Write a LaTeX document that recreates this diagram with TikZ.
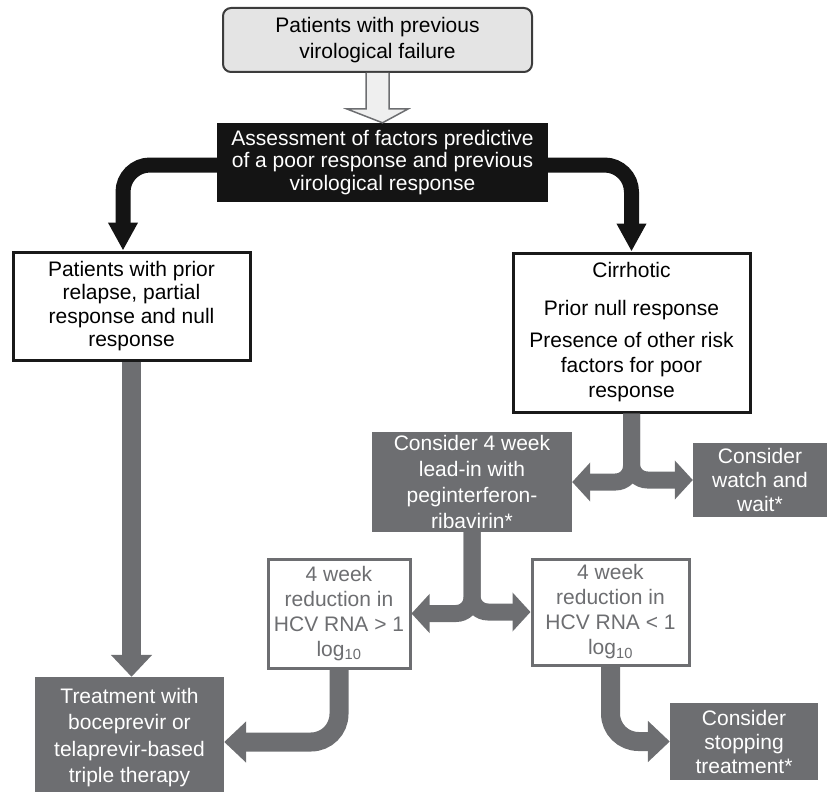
\documentclass[tikz,border=0pt]{standalone}
\usepackage{fontspec}
\setmainfont{Liberation Sans}
\usetikzlibrary{arrows.meta,calc}
\definecolor{dg}{RGB}{109,110,113}
\definecolor{lg}{RGB}{228,228,228}
\definecolor{bd}{RGB}{60,60,60}
\begin{document}
\begin{tikzpicture}[x=1pt,y=-1pt,
  base/.style={inner sep=0pt, align=center, font=\fontsize{21}{25}\selectfont},
  topbox/.style={base, draw=bd, fill=lg, line width=2pt, rounded corners=8pt},
  blackbox/.style={base, fill=black!92, text=white},
  wbox/.style={base, draw=black!90, fill=white, line width=3pt},
  gbox/.style={base, fill=dg, text=white},
  gwbox/.style={base, draw=dg, fill=white, text=dg, line width=3pt},
  barrow/.style={line width=15pt, draw=black!92, rounded corners=27pt, -{Triangle[width=28pt,length=28pt]}},
  garrow/.style={line width=17pt, draw=dg, rounded corners=16pt, -{Triangle[width=38pt,length=18pt]}},
  garrowb/.style={line width=19pt, draw=dg, rounded corners=28pt, -{Triangle[width=40pt,length=22pt]}},
  hollow/.style={draw=dg, fill=lg!60!white, line width=1.5pt, line join=miter}
]
\clip (0,0) rectangle (828,792);

\node[topbox, minimum width=309pt, minimum height=64pt, font=\fontsize{21}{26}\selectfont] (tb) at (377.5,40)
  {Patients with previous\\virological failure};
\node[blackbox, minimum width=331pt, minimum height=79pt, font=\fontsize{21}{22.5}\selectfont] (bb) at (382.5,162.5)
  {Assessment of factors predictive\\of a poor response and previous\\virological response};
\node[wbox, minimum width=237pt, minimum height=108pt, font=\fontsize{21}{23.5}\selectfont] (lb) at (131.5,306)
  {Patients with prior\\relapse, partial\\response and null\\response};
\node[wbox, minimum width=237pt, minimum height=159pt] (rb) at (631.5,332.5)
  {Cirrhotic\\[13pt]Prior null response\\[7pt]Presence of other risk\\factors for poor\\response};
\node[gbox, minimum width=200pt, minimum height=100pt, font=\fontsize{21}{25.7}\selectfont] (c4) at (472,482)
  {Consider 4 week\\lead-in with\\peginterferon-\\ribavirin*};
\node[gbox, minimum width=134pt, minimum height=74pt, font=\fontsize{21}{24}\selectfont] (ww) at (760,480)
  {Consider\\watch and\\wait*};
\node[gwbox, minimum width=142pt, minimum height=109pt] (gt) at (339,613.5)
  {4 week\\reduction in\\HCV RNA > 1\\log\textsubscript{10}};
\node[gwbox, minimum width=157pt, minimum height=106pt] (lt) at (610.5,612)
  {4 week\\reduction in\\HCV RNA < 1\\log\textsubscript{10}};
\node[gbox, minimum width=189pt, minimum height=121pt, font=\fontsize{21}{26.3}\selectfont] (tr) at (129.5,737.5)
  {Treatment with\\boceprevir or\\telaprevir-based\\triple therapy};
\node[gbox, minimum width=148pt, minimum height=77pt, font=\fontsize{21}{24}\selectfont] (st) at (744,741.5)
  {Consider\\stopping\\treatment*};

% hollow arrow
\draw[hollow] ($(tb.south)+(-11.5,0)$) -- ($(tb.south)+(-11.5,36)$) -- ($(tb.south)+(-30.5,36)$)
  -- (bb.north) -- ($(tb.south)+(30.5,36)$) -- ($(tb.south)+(11.5,36)$) -- ($(tb.south)+(11.5,0)$);

% black arrows
\draw[barrow] ([yshift=-2.5pt]bb.west) -| ([xshift=-8.5pt]lb.north);
\draw[barrow] ([yshift=-2.5pt]bb.east) -| (rb.north);

% gray arrows
\draw[garrowb] (lb.south) -- (lb.south |- tr.north);
\draw[garrow] (rb.south) |- (c4.east);
\draw[garrow] (rb.south) |- (ww.west);
\draw[garrow] (c4.south) |- (gt.east);
\draw[garrow] (c4.south) |- (lt.west);
\draw[garrowb] (gt.south) |- ([yshift=-4.5pt]tr.east);
\draw[garrowb] (lt.south) |- (st.west);
\end{tikzpicture}
\end{document}
